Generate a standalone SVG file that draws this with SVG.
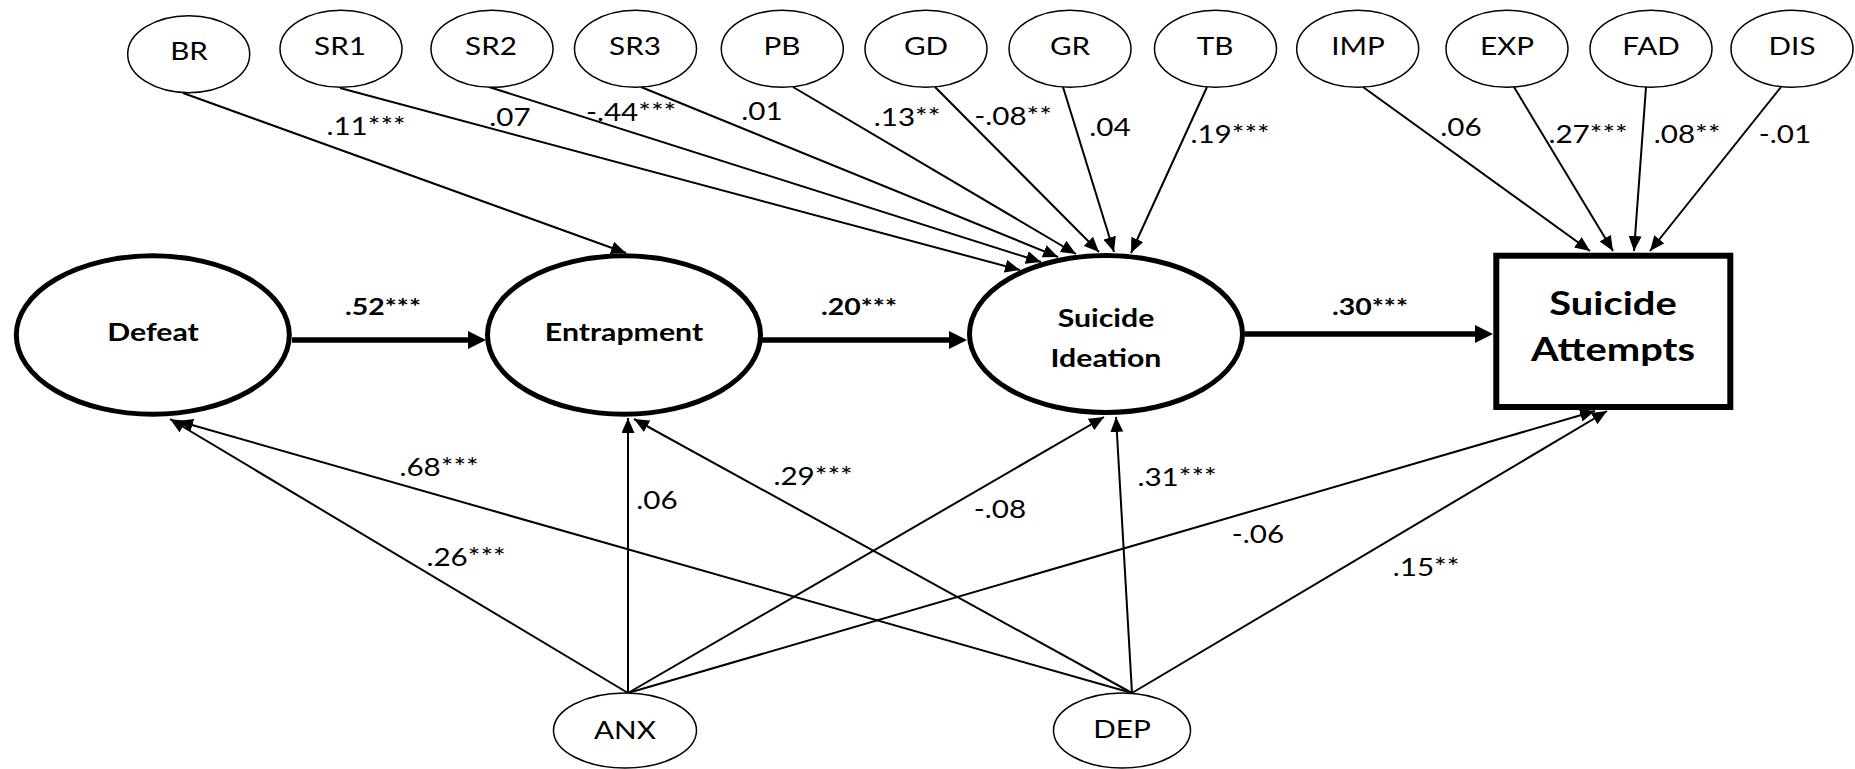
<svg xmlns="http://www.w3.org/2000/svg" width="1855" height="769" viewBox="0 0 1855 769">
<style>
  .bg{fill:#fff}
  .small{fill:#fff;stroke:#000;stroke-width:1.5}
  .big{fill:#fff;stroke:#000;stroke-width:5}
  .box{fill:#fff;stroke:#000;stroke-width:6}
  .thin{stroke:#000;stroke-width:2;fill:none;marker-end:url(#ah)}
  .thick{stroke:#000;stroke-width:5.5;fill:none;marker-end:url(#ahb)}
  text{font-family:Lato,"Open Sans","Liberation Sans",sans-serif;fill:#000;text-anchor:middle}
  .nl{font-size:24.5px}
  .lb{font-size:24.5px}
  .nb{font-size:25px;font-weight:bold}
  .sa{font-size:33px;font-weight:bold}
  .eb{font-size:23.5px;font-weight:bold}
</style>
<defs>
  <marker id="ah" markerUnits="userSpaceOnUse" markerWidth="15" markerHeight="13" refX="15" refY="6.5" orient="auto">
    <path d="M0,0 L15,6.5 L0,13 z" fill="#000"/>
  </marker>
  <marker id="ahb" markerUnits="userSpaceOnUse" markerWidth="18" markerHeight="18" refX="6" refY="9" orient="auto">
    <path d="M0,0 L18,9 L0,18 z" fill="#000"/>
  </marker>
</defs>
<rect class="bg" x="0" y="0" width="1855" height="769"/>

<g id="connectors">
  <line class="thin" x1="183" y1="93" x2="626" y2="253"/>
  <line class="thin" x1="340" y1="88" x2="1020" y2="270"/>
  <line class="thin" x1="489" y1="87" x2="1041" y2="262"/>
  <line class="thin" x1="641" y1="87" x2="1058" y2="257"/>
  <line class="thin" x1="793" y1="87" x2="1076" y2="254"/>
  <line class="thin" x1="935" y1="87" x2="1099" y2="252"/>
  <line class="thin" x1="1063" y1="87" x2="1114" y2="252"/>
  <line class="thin" x1="1207" y1="87" x2="1131" y2="253"/>
  <line class="thin" x1="1363" y1="87" x2="1590" y2="251"/>
  <line class="thin" x1="1514" y1="87" x2="1613" y2="251"/>
  <line class="thin" x1="1646" y1="87" x2="1634" y2="251"/>
  <line class="thin" x1="1781" y1="87" x2="1650" y2="251"/>

  <line class="thin" x1="628" y1="693" x2="170" y2="419"/>
  <line class="thin" x1="1132" y1="693" x2="178" y2="421"/>
  <line class="thin" x1="628" y1="693" x2="628" y2="418"/>
  <line class="thin" x1="1132" y1="693" x2="634" y2="419"/>
  <line class="thin" x1="628" y1="693" x2="1104" y2="417"/>
  <line class="thin" x1="1132" y1="693" x2="1116" y2="417"/>
  <line class="thin" x1="628" y1="693" x2="1595" y2="411"/>
  <line class="thin" x1="1132" y1="693" x2="1607" y2="411"/>

  <line class="thick" x1="292" y1="340" x2="474" y2="340"/>
  <line class="thick" x1="762" y1="340" x2="955" y2="340"/>
  <line class="thick" x1="1245" y1="334" x2="1481" y2="334"/>

  <g id="edge-labels">
    <text class="eb" transform="translate(383 315) scale(1.21 1)">.52***</text>
    <text class="eb" transform="translate(859 315) scale(1.21 1)">.20***</text>
    <text class="eb" transform="translate(1370 315) scale(1.21 1)">.30***</text>
    <text class="lb" transform="translate(366 135) scale(1.21 1)">.11***</text>
    <text class="lb" transform="translate(510 126) scale(1.21 1)">.07</text>
    <text class="lb" transform="translate(631 121) scale(1.21 1)">-.44***</text>
    <text class="lb" transform="translate(762 120) scale(1.21 1)">.01</text>
    <text class="lb" transform="translate(907 126) scale(1.21 1)">.13**</text>
    <text class="lb" transform="translate(1013 125) scale(1.21 1)">-.08**</text>
    <text class="lb" transform="translate(1110 136) scale(1.21 1)">.04</text>
    <text class="lb" transform="translate(1230 143) scale(1.21 1)">.19***</text>
    <text class="lb" transform="translate(1461 136) scale(1.21 1)">.06</text>
    <text class="lb" transform="translate(1588 143) scale(1.21 1)">.27***</text>
    <text class="lb" transform="translate(1687 143) scale(1.21 1)">.08**</text>
    <text class="lb" transform="translate(1785 143) scale(1.21 1)">-.01</text>
    <text class="lb" transform="translate(439 476) scale(1.21 1)">.68***</text>
    <text class="lb" transform="translate(466 566) scale(1.21 1)">.26***</text>
    <text class="lb" transform="translate(657 509) scale(1.21 1)">.06</text>
    <text class="lb" transform="translate(813 485) scale(1.21 1)">.29***</text>
    <text class="lb" transform="translate(1000 518) scale(1.21 1)">-.08</text>
    <text class="lb" transform="translate(1177 486) scale(1.21 1)">.31***</text>
    <text class="lb" transform="translate(1258 543) scale(1.21 1)">-.06</text>
    <text class="lb" transform="translate(1426 576) scale(1.21 1)">.15**</text>
  </g>
</g>

<g id="BR"><ellipse class="small" cx="188.7" cy="54.2" rx="61" ry="38.5"/><text class="nl" transform="translate(189 60) scale(1.21 1)">BR</text></g>
<g id="SR1"><ellipse class="small" cx="341" cy="48.8" rx="61" ry="38.5"/><text class="nl" transform="translate(340 54.5) scale(1.21 1)">SR1</text></g>
<g id="SR2"><ellipse class="small" cx="492" cy="48.8" rx="61" ry="38.5"/><text class="nl" transform="translate(491 54.5) scale(1.21 1)">SR2</text></g>
<g id="SR3"><ellipse class="small" cx="635.5" cy="48.8" rx="61" ry="38.5"/><text class="nl" transform="translate(635 54.5) scale(1.21 1)">SR3</text></g>
<g id="PB"><ellipse class="small" cx="782.3" cy="48.8" rx="61" ry="38.5"/><text class="nl" transform="translate(782 54.5) scale(1.21 1)">PB</text></g>
<g id="GD"><ellipse class="small" cx="926" cy="48.8" rx="61" ry="38.5"/><text class="nl" transform="translate(926 54.5) scale(1.21 1)">GD</text></g>
<g id="GR"><ellipse class="small" cx="1070" cy="48.8" rx="61" ry="38.5"/><text class="nl" transform="translate(1070 54.5) scale(1.21 1)">GR</text></g>
<g id="TB"><ellipse class="small" cx="1215.5" cy="48.8" rx="61" ry="38.5"/><text class="nl" transform="translate(1215 54.5) scale(1.21 1)">TB</text></g>
<g id="IMP"><ellipse class="small" cx="1357.7" cy="48.8" rx="61" ry="38.5"/><text class="nl" transform="translate(1358 54.5) scale(1.21 1)">IMP</text></g>
<g id="EXP"><ellipse class="small" cx="1507" cy="48.8" rx="61" ry="38.5"/><text class="nl" transform="translate(1507 54.5) scale(1.21 1)">EXP</text></g>
<g id="FAD"><ellipse class="small" cx="1651" cy="48.8" rx="61" ry="38.5"/><text class="nl" transform="translate(1651 54.5) scale(1.21 1)">FAD</text></g>
<g id="DIS"><ellipse class="small" cx="1792" cy="48.8" rx="61" ry="38.5"/><text class="nl" transform="translate(1792 54.5) scale(1.21 1)">DIS</text></g>

<g id="ANX"><ellipse class="small" cx="625" cy="730.5" rx="71.5" ry="37.5"/><text class="nl" transform="translate(625 738.5) scale(1.21 1)">ANX</text></g>
<g id="DEP"><ellipse class="small" cx="1122" cy="730.5" rx="68.5" ry="37.5"/><text class="nl" transform="translate(1122 738) scale(1.21 1)">DEP</text></g>

<g id="Defeat"><ellipse class="big" cx="152.8" cy="335" rx="136.5" ry="79.2"/><text class="nb" transform="translate(153 341) scale(1.21 1)">Defeat</text></g>
<g id="Entrapment"><ellipse class="big" cx="624" cy="335" rx="136.5" ry="79.2"/><text class="nb" transform="translate(624 340.5) scale(1.21 1)">Entrapment</text></g>
<g id="SuicideIdeation"><ellipse class="big" cx="1106" cy="334" rx="136.5" ry="78.5"/><text class="nb" transform="translate(1106 327) scale(1.21 1)">Suicide</text><text class="nb" transform="translate(1106 366.5) scale(1.21 1)">Ideation</text></g>
<g id="SuicideAttempts"><rect class="box" x="1496.3" y="255.7" width="234" height="151.3"/><text class="sa" transform="translate(1613 314.5) scale(1.21 1)">Suicide</text><text class="sa" transform="translate(1613 361) scale(1.21 1)">Attempts</text></g>
</svg>
